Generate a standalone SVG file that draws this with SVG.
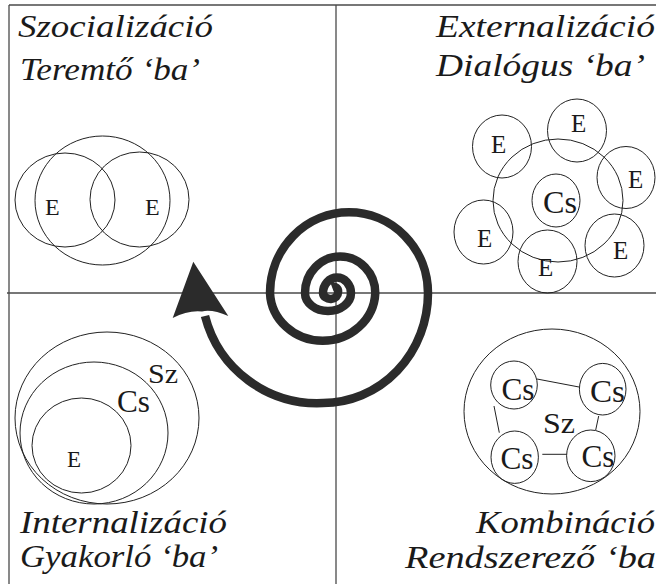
<svg xmlns="http://www.w3.org/2000/svg" width="656" height="584" viewBox="0 0 656 584">
<style>
.frame{stroke:#4a4a4a;stroke-width:1.3;fill:none}
.c{fill:none;stroke:#222;stroke-width:1}
.title{font-family:"Liberation Serif",serif;font-style:italic;font-size:32px;fill:#1a1a1a}
.lbl{font-family:"Liberation Serif",serif;fill:#1a1a1a}
.spiral{fill:none;stroke:#2b2b2b;stroke-width:8.5;stroke-linecap:butt;stroke-linejoin:round}
.link{stroke:#222;stroke-width:1}
</style>
<rect width="656" height="584" fill="#ffffff"/>
<g id="frame">
<line class="frame" x1="9" y1="5" x2="656" y2="5"/>
<line class="frame" x1="9" y1="5" x2="9" y2="584"/>
<line class="frame" x1="336" y1="5" x2="336" y2="584"/>
<line class="frame" x1="7" y1="293" x2="656" y2="293"/>
</g>
<g id="titles">
<text class="title" x="18" y="37" textLength="195" lengthAdjust="spacingAndGlyphs">Szocializáció</text>
<text class="title" x="20" y="80" textLength="180" lengthAdjust="spacingAndGlyphs">Teremtő ‘ba’</text>
<text class="title" x="436" y="37" textLength="219" lengthAdjust="spacingAndGlyphs">Externalizáció</text>
<text class="title" x="436" y="76" textLength="209" lengthAdjust="spacingAndGlyphs">Dialógus ‘ba’</text>
<text class="title" x="20" y="533" textLength="207" lengthAdjust="spacingAndGlyphs">Internalizáció</text>
<text class="title" x="20" y="567" textLength="198" lengthAdjust="spacingAndGlyphs">Gyakorló ‘ba’</text>
<text class="title" x="476" y="533" textLength="179" lengthAdjust="spacingAndGlyphs">Kombináció</text>
<text class="title" x="405" y="568" textLength="251" lengthAdjust="spacingAndGlyphs">Rendszerező ‘ba</text>
</g>
<g id="socializacio">
<ellipse class="c" cx="102.5" cy="200.5" rx="67.5" ry="64.5"/>
<ellipse class="c" cx="65" cy="200" rx="50" ry="47"/>
<ellipse class="c" cx="139.5" cy="199.5" rx="49.5" ry="47.5"/>
<text class="lbl" x="45" y="215" font-size="24">E</text>
<text class="lbl" x="145" y="215" font-size="24">E</text>
</g>
<g id="externalizacio">
<ellipse class="c" cx="558" cy="200.5" rx="65" ry="61.5"/>
<ellipse class="c" cx="556" cy="200.5" rx="24" ry="26.5"/>
<text class="lbl" x="543" y="213" font-size="31" textLength="34" lengthAdjust="spacingAndGlyphs">Cs</text>
<ellipse class="c" cx="502" cy="146.5" rx="29.5" ry="31.5"/>
<ellipse class="c" cx="577" cy="130.5" rx="29.5" ry="31.5"/>
<ellipse class="c" cx="626" cy="177.5" rx="29" ry="31"/>
<ellipse class="c" cx="614.5" cy="245.5" rx="29.5" ry="31.5"/>
<ellipse class="c" cx="547.5" cy="261.5" rx="29.5" ry="31.5"/>
<ellipse class="c" cx="483.5" cy="232" rx="29.5" ry="32"/>
<text class="lbl" x="491" y="153" font-size="25">E</text>
<text class="lbl" x="571" y="132" font-size="25">E</text>
<text class="lbl" x="628" y="188" font-size="25">E</text>
<text class="lbl" x="613" y="259" font-size="25">E</text>
<text class="lbl" x="538" y="276" font-size="25">E</text>
<text class="lbl" x="477" y="247" font-size="25">E</text>
</g>
<g id="internalizacio">
<ellipse class="c" cx="107" cy="418" rx="92" ry="86"/>
<ellipse class="c" cx="94" cy="433" rx="74" ry="71"/>
<ellipse class="c" cx="81.5" cy="445.5" rx="49.5" ry="47.5"/>
<text class="lbl" x="148" y="383" font-size="28" textLength="30" lengthAdjust="spacingAndGlyphs">Sz</text>
<text class="lbl" x="117" y="412" font-size="31" textLength="33" lengthAdjust="spacingAndGlyphs">Cs</text>
<text class="lbl" x="67" y="467" font-size="23">E</text>
</g>
<g id="kombinacio">
<ellipse class="c" cx="552" cy="411.5" rx="88" ry="82.5"/>
<ellipse class="c" cx="514" cy="385" rx="23.3" ry="24"/>
<ellipse class="c" cx="602.7" cy="389.2" rx="23.3" ry="25.8"/>
<ellipse class="c" cx="514.7" cy="457.2" rx="23.7" ry="26.2"/>
<ellipse class="c" cx="590.8" cy="455.8" rx="24.2" ry="25.8"/>
<line class="link" x1="537" y1="379" x2="579" y2="387"/>
<line class="link" x1="494" y1="406" x2="499.3" y2="432.7"/>
<line class="link" x1="598.7" y1="416" x2="595.7" y2="430"/>
<line class="link" x1="542.3" y1="454.3" x2="566.7" y2="454.3"/>
<text class="lbl" x="501.5" y="400" font-size="31" textLength="33" lengthAdjust="spacingAndGlyphs">Cs</text>
<text class="lbl" x="590" y="402" font-size="31" textLength="35" lengthAdjust="spacingAndGlyphs">Cs</text>
<text class="lbl" x="500.5" y="469" font-size="31" textLength="33" lengthAdjust="spacingAndGlyphs">Cs</text>
<text class="lbl" x="581.5" y="467" font-size="31" textLength="33" lengthAdjust="spacingAndGlyphs">Cs</text>
<text class="lbl" x="543" y="433" font-size="29" textLength="32" lengthAdjust="spacingAndGlyphs">Sz</text>
</g>
<g id="connectors">
<path class="spiral" d="M 332 287 A 4.5 4.5 0 0 1 338 292 A 7.5 6.5 0 0 1 323 293 A 14 15.5 0 0 1 351 293 A 23 18 0 0 1 305 293 A 35 36.3 0 0 1 375.3 293 A 52.7 50 0 0 1 270 293 A 79 80.7 0 0 1 428 293 A 105 110 0 0 1 323 403 A 116 116 0 0 1 205 316"/>
<path d="M 193.3 261.7 L 228.3 316 Q 212 309 202 311.5 Q 188 310 172.7 318 Z" fill="#2b2b2b"/>
</g>
</svg>
